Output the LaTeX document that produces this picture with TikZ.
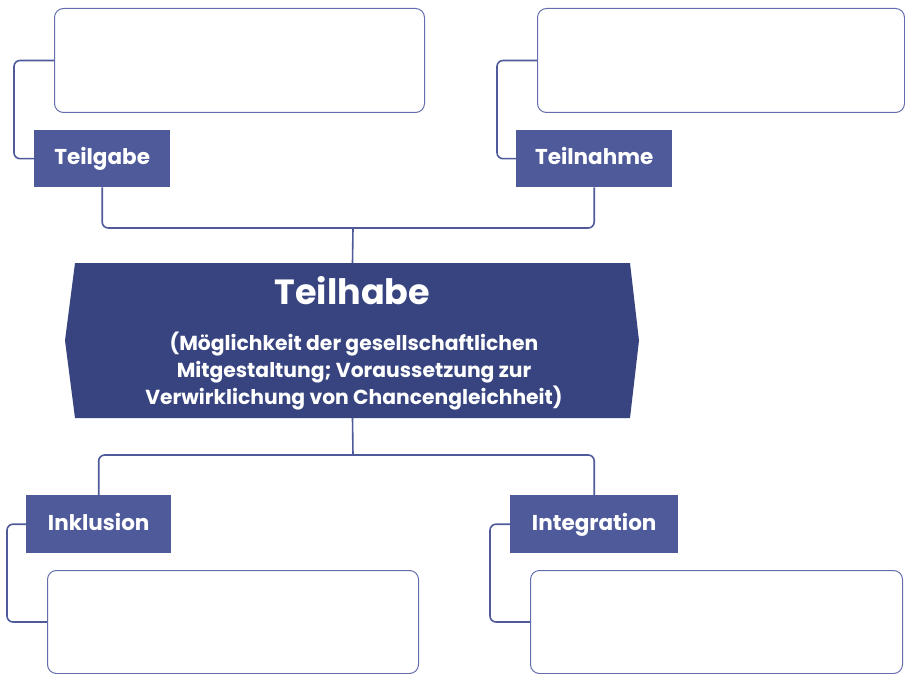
\documentclass[tikz,border=0pt]{standalone}
\usepackage{fontspec}
\setmainfont{Poppins}
\definecolor{labelc}{RGB}{79,90,154}
\definecolor{hexc}{RGB}{55,68,127}
\definecolor{linec}{RGB}{79,90,154}
\definecolor{boxc}{RGB}{100,110,172}
\begin{document}
\begin{tikzpicture}[x=1pt,y=-1pt,
  conn/.style={draw=linec, line width=1.6pt, rounded corners=6pt},
  lab/.style={fill=labelc, text=white, font=\bfseries\fontsize{21.5}{24}\selectfont, inner sep=0pt, anchor=north west, text height=1.2em, text depth=0pt},
  tbox/.style={draw=boxc, line width=1pt, rounded corners=9pt, fill=white, inner sep=0pt, anchor=north west},
  hextext/.style={text=white, align=center, inner sep=0pt}]
\useasboundingbox (0,0) rectangle (905,674);
% text boxes
\node[tbox, minimum width=370pt, minimum height=104pt] (tl) at (54,8) {};
\node[tbox, minimum width=367pt, minimum height=104pt] (tr) at (537,8) {};
\node[tbox, minimum width=371pt, minimum height=103pt] (bl) at (47,570) {};
\node[tbox, minimum width=372pt, minimum height=103pt] (br) at (530,570) {};
% labels
\node[lab, minimum width=136pt, minimum height=57pt] (teilgabe) at (34,130) {Teilgabe};
\node[lab, minimum width=156pt, minimum height=57pt] (teilnahme) at (516,130) {Teilnahme};
\node[lab, minimum width=145pt, minimum height=58pt] (inklusion) at (26,495) {Inklusion};
\node[lab, minimum width=168pt, minimum height=58pt] (integration) at (510,495) {Integration};
% hexagon
\fill[hexc] (75,263) -- (630,263) -- (639,340.5) -- (630,418) -- (75,418) -- (65,340.5) -- cycle;
\node[minimum width=555pt, minimum height=155pt, inner sep=0pt] (hex) at (352.5,340.5) {};
\node[hextext, font=\bfseries\fontsize{35}{40}\selectfont, text height=0.7em, text depth=0pt] (title) at (352.5,301) {Teilhabe};
\node[hextext, font=\bfseries\fontsize{20.3}{27}\selectfont] (sub) at (354,371) {(Möglichkeit der gesellschaftlichen\\Mitgestaltung; Voraussetzung zur\\Verwirklichung von Chancengleichheit)};
% connectors
\coordinate (j1) at (353,228);
\coordinate (j2) at (353,455);
\draw[conn] (teilgabe.south) |- (j1) -| (teilnahme.south);
\draw[conn] (j1) -- (hex.north);
\draw[conn] (hex.south) -- (j2);
\draw[conn] (inklusion.north) |- (j2) -| (integration.north);
\draw[conn] (teilgabe.west) -- ++(-20,0) |- (tl.west);
\draw[conn] (teilnahme.west) -- ++(-19,0) |- (tr.west);
\draw[conn] (inklusion.west) -- ++(-19,0) |- (bl.west);
\draw[conn] (integration.west) -- ++(-20,0) |- (br.west);
\end{tikzpicture}
\end{document}
